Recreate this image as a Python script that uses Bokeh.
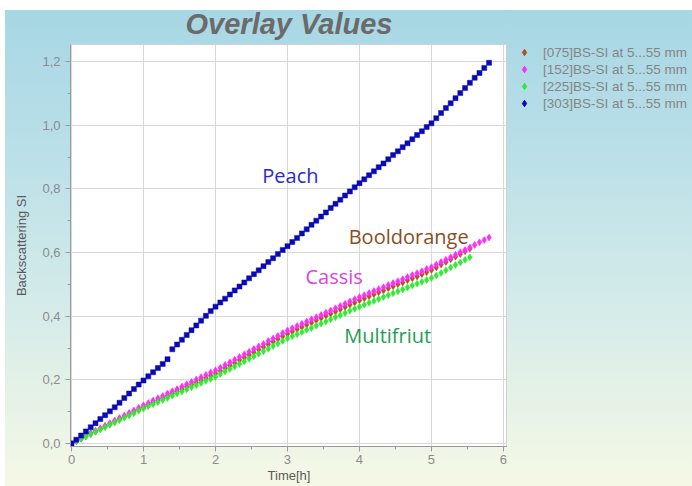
from bokeh.plotting import figure
from bokeh.layouts import row
from bokeh.models import FixedTicker, Legend, LegendItem, Range1d, ColumnDataSource
from bokeh.core.properties import value
from bokeh.embed import file_html
from bokeh.resources import INLINE

# ---------------- data ----------------
time_min = [0, 4, 8, 12, 16, 20, 24, 28, 32, 36, 40, 44, 48, 52, 56, 60, 64, 68, 72, 76,
            80, 84, 88, 92, 96, 100, 104, 108, 112, 116, 120, 124, 128, 132, 136, 140, 144, 148, 152, 156,
            160, 164, 168, 172, 176, 180, 184, 188, 192, 196, 200, 204, 208, 212, 216, 220, 224, 228, 232, 236,
            240, 244, 248, 252, 256, 260, 264, 268, 272, 276, 280, 284, 288, 292, 296, 300, 304, 308, 312, 316,
            320, 324, 328, 332, 336, 340, 344, 348]

peach = [0.000, 0.012, 0.025, 0.038, 0.051, 0.064, 0.077, 0.089, 0.101, 0.114,
         0.128, 0.143, 0.157, 0.171, 0.185, 0.198, 0.211, 0.224, 0.237, 0.250,
         0.265, 0.296, 0.311, 0.326, 0.341, 0.356, 0.371, 0.386, 0.401, 0.416,
         0.430, 0.443, 0.455, 0.468, 0.481, 0.493, 0.506, 0.519, 0.532, 0.544,
         0.557, 0.570, 0.582, 0.595, 0.608, 0.620, 0.633, 0.646, 0.660, 0.673,
         0.687, 0.700, 0.713, 0.726, 0.740, 0.753, 0.766, 0.779, 0.792, 0.805,
         0.818, 0.830, 0.843, 0.855, 0.868, 0.880, 0.893, 0.906, 0.918, 0.931,
         0.943, 0.956, 0.969, 0.981, 0.994, 1.006, 1.022, 1.038, 1.054, 1.069,
         1.085, 1.101, 1.117, 1.133, 1.149, 1.164, 1.180, 1.196]

cassis = [0.000, 0.008, 0.016, 0.024, 0.032, 0.040, 0.048, 0.056, 0.064, 0.072,
          0.080, 0.088, 0.096, 0.104, 0.112, 0.120, 0.127, 0.135, 0.142, 0.149,
          0.157, 0.164, 0.171, 0.179, 0.186, 0.193, 0.201, 0.208, 0.215, 0.223,
          0.230, 0.238, 0.247, 0.255, 0.263, 0.272, 0.280, 0.288, 0.297, 0.305,
          0.313, 0.322, 0.330, 0.338, 0.347, 0.355, 0.362, 0.369, 0.376, 0.383,
          0.390, 0.397, 0.404, 0.411, 0.418, 0.425, 0.432, 0.439, 0.446, 0.453,
          0.460, 0.466, 0.473, 0.479, 0.485, 0.491, 0.498, 0.504, 0.510, 0.516,
          0.523, 0.529, 0.535, 0.541, 0.548, 0.554, 0.562, 0.570, 0.577, 0.585,
          0.593, 0.601, 0.608, 0.616, 0.624, 0.632, 0.639, 0.647]

multifruit = [0.000, 0.007, 0.015, 0.022, 0.029, 0.037, 0.044, 0.051, 0.059, 0.066,
              0.073, 0.081, 0.088, 0.095, 0.103, 0.110, 0.117, 0.123, 0.130, 0.137,
              0.143, 0.150, 0.157, 0.163, 0.170, 0.177, 0.183, 0.190, 0.197, 0.203,
              0.210, 0.218, 0.226, 0.234, 0.242, 0.250, 0.258, 0.266, 0.274, 0.282,
              0.290, 0.298, 0.306, 0.314, 0.322, 0.330, 0.337, 0.343, 0.350, 0.357,
              0.363, 0.370, 0.377, 0.383, 0.390, 0.397, 0.403, 0.410, 0.417, 0.423,
              0.430, 0.436, 0.442, 0.448, 0.454, 0.460, 0.466, 0.472, 0.478, 0.484,
              0.490, 0.496, 0.502, 0.508, 0.514, 0.520, 0.528, 0.536, 0.544, 0.553,
              0.561, 0.569, 0.577, 0.585]

booldorange = [0.000, 0.008, 0.015, 0.023, 0.031, 0.038, 0.046, 0.054, 0.061, 0.069,
               0.077, 0.084, 0.092, 0.100, 0.107, 0.115, 0.122, 0.129, 0.136, 0.143,
               0.150, 0.157, 0.164, 0.171, 0.178, 0.185, 0.192, 0.199, 0.206, 0.213,
               0.220, 0.228, 0.237, 0.245, 0.253, 0.262, 0.270, 0.278, 0.287, 0.295,
               0.303, 0.312, 0.320, 0.328, 0.337, 0.345, 0.352, 0.359, 0.366, 0.373,
               0.380, 0.387, 0.394, 0.401, 0.408, 0.415, 0.422, 0.429, 0.436, 0.443,
               0.450, 0.456, 0.463, 0.469, 0.475, 0.481, 0.488, 0.494, 0.500, 0.506,
               0.513, 0.519, 0.525, 0.532, 0.538, 0.545, 0.553, 0.562, 0.570, 0.579,
               0.587, 0.595, 0.604, 0.612]

legend_labels = ["[075]BS-SI at 5...55 mm", "[152]BS-SI at 5...55 mm",
                 "[225]BS-SI at 5...55 mm", "[303]BS-SI at 5...55 mm"]
series_names = ["Booldorange", "Cassis", "Multifriut", "Peach"]
series_colors = ["#b0501e", "#ff2cff", "#33ea33", "#0a0ab4"]
label_colors = ["#8a4e22", "#dd44dd", "#1f9e52", "#2a2ad0"]

x_ticks = [0, 1, 2, 3, 4, 5, 6]
x_tick_labels = ["0", "1", "2", "3", "4", "5", "6"]
y_ticks = [0.0, 0.2, 0.4, 0.6, 0.8, 1.0, 1.2]
y_tick_labels = ["0,0", "0,2", "0,4", "0,6", "0,8", "1,0", "1,2"]

GRADIENT = "linear-gradient(to bottom, #a6d6e4 0%, #b9dfe8 30%, #d6ece9 65%, #f6f8e6 100%)"
WHITE_TOP = "linear-gradient(#ffffff, #ffffff) top left / 100% 10px no-repeat"
WHITE_LEFT = "linear-gradient(#ffffff, #ffffff) top left / 5px 100% no-repeat"

hours = [m / 60 for m in time_min]
all_values = [booldorange, cassis, multifruit, peach]

# ---------------- main figure ----------------
p = figure(width=507, height=486, output_backend="svg", toolbar_location=None,
           x_range=Range1d(-0.014, 6.056), y_range=Range1d(-0.0094, 1.2535),
           min_border_left=70, min_border_right=0, min_border_top=44, min_border_bottom=40)

p.styles = {"background": f"{WHITE_TOP}, {WHITE_LEFT}, {GRADIENT}"}
p.border_fill_alpha = 0
p.background_fill_color = "white"
p.outline_line_color = "#d0d0d0"

p.title.text = "Overlay Values"
p.title.align = "center"
p.title.text_font = "Liberation Sans"
p.title.text_font_style = "bold italic"
p.title.text_font_size = "29px"
p.title.text_color = "#6b6b6b"
p.title.offset = 0
p.title.standoff = 9

markers = ["diamond", "diamond", "diamond", "square"]
sizes = [7, 7, 7, 5]
for vals, col, mk, sz in zip(all_values, series_colors, markers, sizes):
    p.scatter(hours[:len(vals)], vals, marker=mk, size=sz,
              fill_color=col, line_color=col, line_width=0.5)

# series name annotations
ann = ColumnDataSource(dict(
    x=[3.85, 3.25, 3.79, 2.65],
    y=[0.651, 0.525, 0.34, 0.843],
    text=series_names,
    color=label_colors,
))
p.text(x="x", y="y", text="text", text_color="color", source=ann,
       text_font=value("Open Sans"), text_font_size="20px", text_baseline="middle")

# axes
axis_grey = "#8c8c8c"
for ax in (p.xaxis[0], p.yaxis[0]):
    ax.axis_line_color = "#9a9a9a"
    ax.major_tick_line_color = "#9a9a9a"
    ax.minor_tick_line_color = "#9a9a9a"
    ax.major_tick_out = 5
    ax.major_tick_in = 0
    ax.minor_tick_out = 3
    ax.minor_tick_in = 0
    ax.major_label_text_color = axis_grey
    ax.major_label_text_font = "Liberation Sans"
    ax.major_label_text_font_size = "13px"
    ax.axis_label_text_font = "Liberation Sans"
    ax.axis_label_text_font_size = "13px"
    ax.axis_label_text_font_style = "normal"
    ax.axis_label_text_color = "#5a5a5a"

p.xaxis.ticker = FixedTicker(ticks=x_ticks, minor_ticks=[0.5, 1.5, 2.5, 3.5, 4.5, 5.5])
p.xaxis.major_label_overrides = dict(zip(x_ticks, x_tick_labels))
p.xaxis.axis_label = "Time[h]"
p.xaxis.axis_label_standoff = 1
p.xaxis.major_label_standoff = 3

p.yaxis.ticker = FixedTicker(ticks=y_ticks, minor_ticks=[0.1, 0.3, 0.5, 0.7, 0.9, 1.1])
p.yaxis.major_label_overrides = dict(zip(y_ticks, y_tick_labels))
p.yaxis.axis_label = "Backscattering SI"
p.yaxis.axis_label_standoff = 10

p.xgrid.ticker = FixedTicker(ticks=x_ticks)
p.ygrid.ticker = FixedTicker(ticks=y_ticks)
p.grid.grid_line_color = "#d8d8d8"
p.grid.grid_line_width = 1

# ---------------- legend panel (frame is aligned with the main plot's frame) ----------------
q = figure(width=185, height=486, output_backend="svg", toolbar_location=None,
           x_range=Range1d(100, 101), y_range=Range1d(100, 101),
           min_border_left=0, min_border_right=0, min_border_top=0, min_border_bottom=0)
q.axis.visible = False
q.grid.visible = False
q.outline_line_color = None
q.background_fill_alpha = 0
q.border_fill_alpha = 0
q.styles = {"background": f"{WHITE_TOP}, {GRADIENT}"}

# same series drawn in the legend panel, outside its visible range: only their legend glyphs show
legend_renderers = [q.scatter(hours[:len(vals)], vals, marker="diamond", size=10, fill_color=c, line_color=c)
                    for vals, c in zip(all_values, series_colors)]
legend = Legend(items=[LegendItem(label=lab, renderers=[r]) for lab, r in zip(legend_labels, legend_renderers)],
                location=(0, 335), orientation="vertical")
legend.background_fill_alpha = 0
legend.border_line_alpha = 0
legend.padding = 0
legend.margin = 0
legend.spacing = 1
legend.glyph_width = 34
legend.glyph_height = 16
legend.label_height = 16
legend.label_standoff = 2
legend.label_text_font = "Liberation Sans"
legend.label_text_font_size = "13.5px"
legend.label_text_color = "#858585"
q.add_layout(legend, "center")

layout = row(p, q, spacing=0)
open("out.html", "w").write(file_html(layout, INLINE))
